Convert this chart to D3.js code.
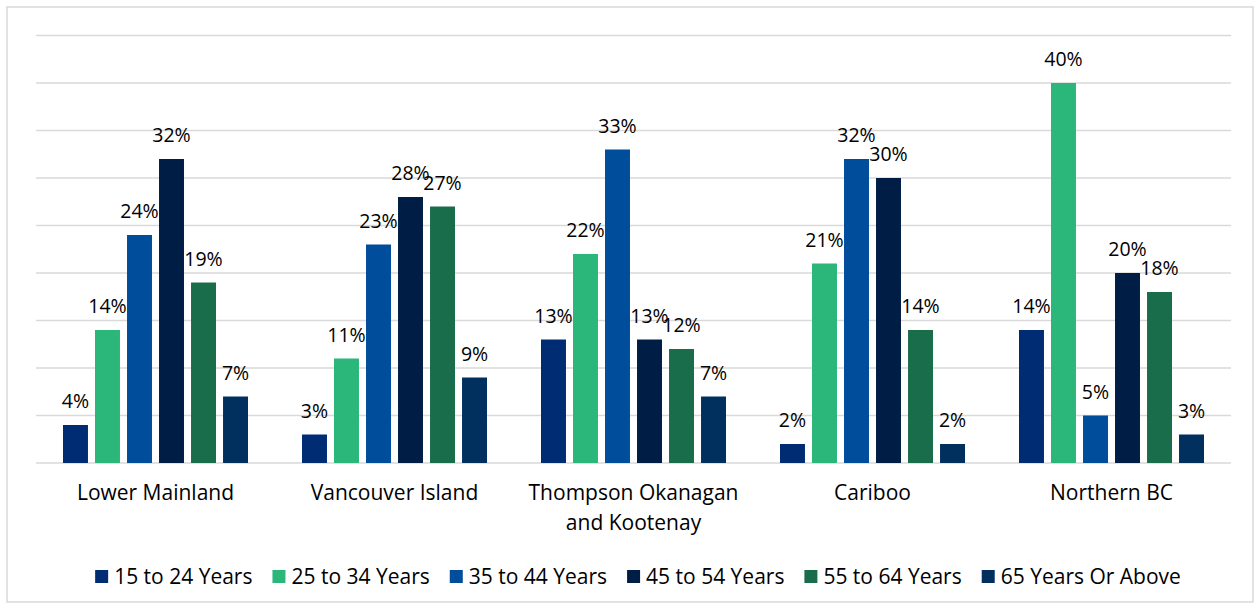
<!DOCTYPE html>
<html lang="en">
<head>
<meta charset="UTF-8">
<title>Age distribution by region</title>
<script src="https://d3js.org/d3.v7.min.js"></script>
<style>
  body { margin: 0; background: #fff; }
  svg text { font-family: "Open Sans", Lato, sans-serif; fill: #000; }
  .grid line { stroke: #d9d9d9; stroke-width: 1.5px; }
  .frame { fill: none; stroke: #d9d9d9; stroke-width: 1.5px; }
</style>
</head>
<body>
<svg id="chart" width="1260" height="609"></svg>
<script>
// regions along the x axis (second line used for wrapped labels)
var regions = ["Lower Mainland", "Vancouver Island", "Thompson Okanagan\nand Kootenay", "Cariboo", "Northern BC"];
var ageGroups = ["15 to 24 Years", "25 to 34 Years", "35 to 44 Years", "45 to 54 Years", "55 to 64 Years", "65 Years Or Above"];
var colors = ["#002c73", "#2bb67a", "#004d9c", "#001e45", "#1a6d4a", "#012f5e"];

// percent values per age group, one entry per region
var age15to24 = [4, 3, 13, 2, 14];
var age25to34 = [14, 11, 22, 21, 40];
var age35to44 = [24, 23, 33, 32, 5];
var age45to54 = [32, 28, 13, 30, 20];
var age55to64 = [19, 27, 12, 14, 18];
var age65plus = [7, 9, 7, 2, 3];

var yTicks = [0, 5, 10, 15, 20, 25, 30, 35, 40, 45];

var series = [age15to24, age25to34, age35to44, age45to54, age55to64, age65plus];

var svg = d3.select("#chart");
var margin = {left: 36, right: 29, top: 35.5, bottom: 146};
var W = 1260, H = 609;
var fs = "21px";

svg.append("rect").attr("class", "frame")
  .attr("x", 7).attr("y", 7).attr("width", 1246).attr("height", 595);

var x0 = d3.scaleBand().domain(regions).range([margin.left, W - margin.right]);
var x1 = d3.scaleBand().domain(ageGroups).range([27, x0.bandwidth() - 27]).paddingInner(0.22);
var y = d3.scaleLinear().domain([0, 45]).range([H - margin.bottom, margin.top]);

svg.append("g").attr("class", "grid")
  .selectAll("line").data(yTicks).enter().append("line")
  .attr("x1", margin.left).attr("x2", W - margin.right)
  .attr("y1", function(d){ return y(d); }).attr("y2", function(d){ return y(d); });

var rows = [];
regions.forEach(function(r, i){
  ageGroups.forEach(function(a, j){
    rows.push({region: r, group: a, value: series[j][i], color: colors[j]});
  });
});

var bars = svg.append("g");
bars.selectAll("rect").data(rows).enter().append("rect")
  .attr("x", function(d){ return x0(d.region) + x1(d.group); })
  .attr("width", x1.bandwidth())
  .attr("y", function(d){ return y(d.value); })
  .attr("height", function(d){ return y(0) - y(d.value); })
  .attr("fill", function(d){ return d.color; });

bars.selectAll("text").data(rows).enter().append("text")
  .attr("x", function(d){ return x0(d.region) + x1(d.group) + x1.bandwidth() / 2; })
  .attr("y", function(d){ return y(d.value) - 17; })
  .attr("text-anchor", "middle")
  .style("font-size", "19.5px")
  .text(function(d){ return d.value + "%"; });

// category labels
var cats = svg.append("g");
regions.forEach(function(r){
  var lines = r.split("\n");
  var t = cats.append("text")
    .attr("x", x0(r) + x0.bandwidth() / 2)
    .attr("y", 500)
    .attr("text-anchor", "middle")
    .style("font-size", fs);
  lines.forEach(function(l, k){
    t.append("tspan").attr("x", x0(r) + x0.bandwidth() / 2).attr("dy", k ? 30 : 0).text(l);
  });
});

// legend
var legend = svg.append("g");
var items = legend.selectAll("g").data(ageGroups).enter().append("g");
items.append("rect").attr("width", 13).attr("height", 13).attr("y", -14)
  .attr("fill", function(d, i){ return colors[i]; });
items.append("text").attr("x", 19).style("font-size", fs).text(function(d){ return d; });
var gap = 20, pos = 0, offsets = [];
items.each(function(){
  offsets.push(pos);
  pos += this.getBBox().width + gap;
});
var start = 638 - (pos - gap) / 2;
items.attr("transform", function(d, i){ return "translate(" + (start + offsets[i]) + ",584)"; });
</script>
</body>
</html>
